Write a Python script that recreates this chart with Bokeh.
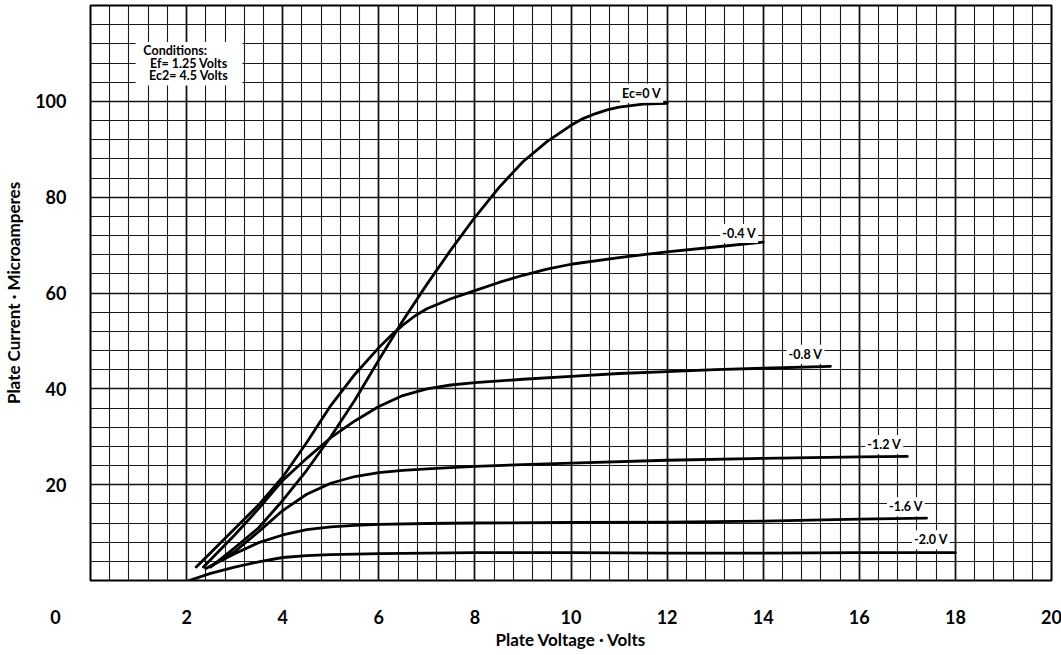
from bokeh.plotting import figure
from bokeh.models import Range1d, FixedTicker, Label, BoxAnnotation
from bokeh.embed import file_html
from bokeh.resources import INLINE

# ---- data ----
x_ec0 = [2.5, 3.0, 3.5, 4.0, 4.5, 5.0, 5.5, 6.0, 6.5, 7.0, 7.5, 8.0, 8.5, 9.0, 9.5, 10.0, 10.25, 10.5, 10.75, 11.0, 11.5, 12.0]
y_ec0 = [2.8, 6.8, 11.0, 16.7, 23.0, 30.0, 37.6, 46.0, 54.2, 61.8, 69.0, 75.8, 82.0, 87.4, 91.6, 95.0, 96.4, 97.4, 98.2, 98.8, 99.4, 99.6]

x_m04 = [2.2, 2.5, 3.0, 3.5, 4.0, 4.5, 5.0, 5.5, 6.0, 6.25, 6.5, 6.75, 7.0, 7.5, 8.0, 8.5, 9.0, 9.5, 10.0, 11.0, 12.0, 13.0, 14.0]
y_m04 = [2.8, 5.8, 10.8, 15.8, 21.6, 28.8, 36.5, 43.0, 48.6, 51.1, 53.3, 55.2, 56.7, 58.8, 60.5, 62.2, 63.7, 65.0, 66.0, 67.4, 68.6, 69.6, 70.6]

x_m08 = [2.35, 3.0, 3.5, 4.0, 4.5, 5.0, 5.5, 6.0, 6.5, 7.0, 7.5, 8.0, 9.0, 10.0, 11.0, 12.0, 13.0, 14.0, 15.4]
y_m08 = [2.8, 9.5, 15.0, 20.9, 25.5, 29.8, 33.3, 36.3, 38.6, 40.0, 40.8, 41.3, 42.0, 42.6, 43.2, 43.6, 44.0, 44.3, 44.7]

x_m12 = [2.5, 3.0, 3.5, 4.0, 4.5, 5.0, 5.5, 6.0, 6.5, 7.0, 8.0, 9.0, 10.0, 12.0, 14.0, 16.0, 17.0]
y_m12 = [3.0, 6.0, 10.2, 14.6, 18.0, 20.3, 21.7, 22.5, 23.0, 23.3, 23.8, 24.2, 24.5, 25.1, 25.5, 25.8, 25.9]

x_m16 = [2.4, 3.0, 3.5, 4.0, 4.5, 5.0, 5.5, 6.0, 7.0, 8.0, 10.0, 12.0, 14.0, 16.0, 17.4]
y_m16 = [2.5, 5.6, 7.9, 9.5, 10.6, 11.2, 11.5, 11.7, 11.9, 12.0, 12.1, 12.2, 12.4, 12.8, 13.0]

x_m20 = [2.05, 2.5, 3.0, 3.5, 4.0, 4.5, 5.0, 6.0, 7.0, 8.0, 10.0, 12.0, 14.0, 16.0, 18.0]
y_m20 = [0.0, 1.5, 2.8, 3.9, 4.8, 5.2, 5.4, 5.6, 5.7, 5.8, 5.8, 5.7, 5.7, 5.8, 5.8]

series_x = [x_ec0, x_m04, x_m08, x_m12, x_m16, x_m20]
series_y = [y_ec0, y_m04, y_m08, y_m12, y_m16, y_m20]

curve_labels = ["Ec=0 V", "-0.4 V", "-0.8 V", "-1.2 V", "-1.6 V", "-2.0 V"]
label_x = [11.47, 13.5, 14.88, 16.52, 16.97, 17.49]
label_y = [101.7, 72.4, 47.2, 28.4, 15.4, 8.5]

x_tick_values = [0, 2, 4, 6, 8, 10, 12, 14, 16, 18, 20]
y_tick_values = [20, 40, 60, 80, 100]

cond_lines = ["Conditions:", "Ef= 1.25 Volts", "Ec2= 4.5 Volts"]
cond_x = [1.1, 1.24, 1.22]
cond_y = [110.6, 108.0, 105.3]

x_title = "Plate Voltage \u00b7 Volts"
y_title = "Plate Current \u00b7 Microamperes"

FONT = "Lato"

# ---- figure ----
p = figure(frame_width=961, frame_height=575,
           x_range=Range1d(0, 20), y_range=Range1d(0, 120),
           output_backend="svg", toolbar_location=None,
           min_border_left=88, min_border_right=12,
           min_border_top=5, min_border_bottom=75)
p.background_fill_color = "white"
p.border_fill_color = "white"
p.outline_line_color = "black"
p.outline_line_width = 2

x_minor = [round(0.4 * i, 2) for i in range(51)]
y_minor = [4 * i for i in range(31)]
p.xaxis.ticker = FixedTicker(ticks=x_tick_values, minor_ticks=x_minor)
p.yaxis.ticker = FixedTicker(ticks=y_tick_values, minor_ticks=y_minor)
# the origin "0" sits at the lower-left corner, left of the frame
p.xaxis.major_label_overrides = {0: "0" + "\u00a0" * 16}

for ax in (p.xaxis, p.yaxis):
    ax.axis_line_color = None
    ax.major_tick_line_color = None
    ax.minor_tick_line_color = None
    ax.major_tick_out = 0
    ax.major_tick_in = 0
    ax.minor_tick_out = 0
    ax.minor_tick_in = 0
    ax.major_label_text_font = FONT
    ax.major_label_text_font_style = "bold"
    ax.major_label_text_font_size = "18px"
    ax.major_label_text_color = "black"
    ax.axis_label_text_font = FONT
    ax.axis_label_text_font_style = "bold"
    ax.axis_label_text_font_size = "17px"
    ax.axis_label_text_color = "black"

p.xaxis.axis_label = x_title
p.yaxis.axis_label = y_title
p.xaxis.major_label_standoff = 25
p.xaxis.axis_label_standoff = -2
p.yaxis.major_label_standoff = 24
p.yaxis.axis_label_standoff = 8

for g in (p.xgrid, p.ygrid):
    g.grid_line_color = "#111111"
    g.grid_line_width = 1.7
    g.minor_grid_line_color = "#1a1a1a"
    g.minor_grid_line_width = 1.1
    g.level = "underlay"

# curves
for xs, ys in zip(series_x, series_y):
    p.line(xs, ys, line_color="black", line_width=2.8, line_join="round", line_cap="round")

# conditions box
p.add_layout(BoxAnnotation(left=0.94, right=3.16, top=112.4, bottom=103.3,
                           fill_color="white", fill_alpha=1.0, line_color=None))
for t, xx, yy in zip(cond_lines, cond_x, cond_y):
    p.add_layout(Label(x=xx, y=yy, text=t, text_font=FONT, text_font_style="bold",
                       text_font_size="12.5px", text_align="left", text_baseline="middle",
                       text_color="black"))

# curve labels
for t, xx, yy in zip(curve_labels, label_x, label_y):
    p.add_layout(Label(x=xx, y=yy, text=t, text_font=FONT, text_font_style="bold",
                       text_font_size="12.5px", text_align="center", text_baseline="middle",
                       text_color="black", background_fill_color="white",
                       background_fill_alpha=1.0, padding=2))

open("out.html", "w").write(file_html(p, INLINE))
